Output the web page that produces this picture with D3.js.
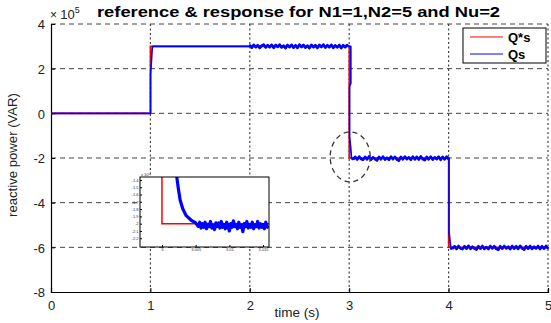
<!DOCTYPE html>
<html>
<head>
<meta charset="utf-8">
<script src="https://cdn.jsdelivr.net/npm/d3@7"></script>
<style>
  body { margin: 0; background: #fff; }
  text { font-family: "Liberation Sans", Arial, sans-serif; }
</style>
</head>
<body>
<div id="chart"></div>
<script>
// values in units of 10^5 VAR
var xTicks = [0, 1, 2, 3, 4, 5],
    yTicks = [-8, -6, -4, -2, 0, 2, 4];

// reference Q*s (step after)
var refTimes = [0, 1, 3, 4, 5],
    refValues = [0, 3, -2, -6, -6];

// response Qs, transitions
var qsRise1 = [[0, 0], [1.002, 0], [1.002, 1.75], [1.018, 2.9], [1.022, 3.0], [2.0, 3.0]];
var qsFall3 = [[2.999, 3.0], [3.016, 3.0], [3.016, 1.35], [3.004, 1.2], [3.004, -1.05], [3.016, -1.6],
  [3.022, -1.95], [3.03, -2.06]];
var qsFall4 = [[3.999, -2.0], [4.004, -2.0], [4.004, -5.3], [4.016, -5.8], [4.024, -6.08], [4.04, -6.0]];

// noisy stretches, sampled every 0.02 s
var noiseStep = 0.02;
var noise2 = [3.06, 2.94, 3.07, 2.96, 3.05, 2.93, 3.03, 3.08, 2.95, 3.05, 2.96, 3.07, 2.93, 3.06, 2.98, 3.08,
  2.95, 3.03, 2.92, 3.06, 2.96, 3.07, 2.94, 3.05, 2.93, 3.08, 2.97, 3.06, 2.94, 3.03, 2.92, 3.07, 2.96, 3.05,
  2.93, 3.06, 2.97, 3.08, 2.94, 3.05, 2.96, 3.07, 2.93, 3.04, 2.95, 3.06, 2.92, 3.05, 2.96, 3.07];
var noise3 = [-2.06, -1.95, -2.07, -1.94, -2.05, -2.08, -1.95, -2.06, -1.93, -2.07, -1.97, -2.05, -2.11, -1.95,
  -2.06, -1.94, -2.07, -1.99, -2.08, -1.94, -2.05, -1.95, -2.07, -2.12, -1.95, -2.06, -1.94, -2.05, -1.97,
  -2.08, -1.94, -2.06, -1.95, -2.07, -1.93, -2.05, -2.1, -1.95, -2.06, -1.94, -2.07, -1.97, -2.05, -1.94,
  -2.08, -1.95, -2.06, -1.94, -2.05];
var noise4 = [-6.06, -5.95, -6.07, -5.94, -6.05, -6.08, -5.95, -6.06, -5.93, -6.07, -5.97, -6.05, -6.1, -5.95,
  -6.06, -5.94, -6.07, -5.99, -6.08, -5.94, -6.05, -5.95, -6.07, -6.11, -5.95, -6.06, -5.94, -6.05, -5.97,
  -6.08, -5.94, -6.06, -5.95, -6.07, -5.93, -6.05, -6.1, -5.95, -6.06, -5.94, -6.07, -5.97, -6.05, -5.94,
  -6.08, -5.95, -6.06, -5.94, -6.05];

// inset (zoom around t = 3 s)
var insetXTicks = [3, 3.005, 3.01, 3.015],
    insetYTicks = [-1.4, -1.5, -1.6, -1.7, -1.8, -1.9, -2, -2.1, -2.2];
var insetRef = [[3, -1.2], [3, -2.0], [3.02, -2.0]];
var insetDecay = [[3.0021, -1.2], [3.0022, -1.36], [3.0024, -1.5], [3.0027, -1.68], [3.0031, -1.8],
  [3.0036, -1.89], [3.0043, -1.95], [3.005, -1.99]];
var insetNoiseStep = 0.0002;
var insetNoise = [-2.04, -1.98, -2.06, -2.0, -2.05, -1.98, -2.07, -2.01, -2.04, -1.97, -2.06, -2.02, -2.08,
  -1.99, -2.04, -1.99, -2.06, -1.97, -2.05, -2.01, -2.07, -1.98, -2.04, -2.1, -2.0, -2.05, -1.96, -2.04, -2.01,
  -2.07, -1.98, -2.05, -2.02, -2.11, -2.0, -2.04, -1.97, -2.06, -2.01, -2.05, -1.98, -2.07, -2.02, -2.04,
  -1.97, -2.06, -2.0, -2.05, -2.01, -2.07, -1.98, -2.04, -2.06];

var W = 551, H = 323;
var margin = {top: 24, right: 3, bottom: 31, left: 51},
    width = W - margin.left - margin.right,
    height = H - margin.top - margin.bottom;

var svg = d3.select("#chart").append("svg")
    .attr("width", W)
    .attr("height", H);

var g = svg.append("g")
    .attr("transform", "translate(" + margin.left + "," + margin.top + ")");

var x = d3.scaleLinear().domain([0, 5]).range([0, width]);
var y = d3.scaleLinear().domain([-8, 4]).range([height, 0]);

// grid
g.append("g").selectAll("line")
  .data(yTicks.filter(function (d) { return d > -8; }))
  .enter().append("line")
    .attr("x1", 0).attr("x2", width)
    .attr("y1", function (d) { return y(d); })
    .attr("y2", function (d) { return y(d); })
    .attr("stroke", "#444")
    .attr("stroke-width", 1)
    .attr("stroke-dasharray", "5,4");

g.append("g").selectAll("line")
  .data(xTicks.filter(function (d) { return d > 0; }))
  .enter().append("line")
    .attr("x1", function (d) { return x(d); })
    .attr("x2", function (d) { return x(d); })
    .attr("y1", 0).attr("y2", height)
    .attr("stroke", "#444")
    .attr("stroke-width", 1.2)
    .attr("stroke-dasharray", "2,2.5");

// axes
var xAxis = g.append("g")
    .attr("transform", "translate(0," + height + ")")
    .call(d3.axisBottom(x).tickValues(xTicks).tickSize(-4).tickPadding(6).tickFormat(d3.format("d")));
var yAxis = g.append("g")
    .call(d3.axisLeft(y).tickValues(yTicks).tickSize(-4).tickPadding(6).tickFormat(function (d) { return d; }));

[xAxis, yAxis].forEach(function (a) {
  a.select(".domain").attr("stroke", "#000").attr("stroke-width", 1.2);
  a.selectAll(".tick line").attr("stroke", "#000");
  a.selectAll(".tick text")
    .attr("font-size", 13)
    .attr("fill", "#222")
    .style("font-family", "'Liberation Sans', Arial, sans-serif");
});
xAxis.selectAll(".tick text").attr("dy", "0.95em");
yAxis.selectAll(".tick text").attr("dy", "0.36em");

// data lines
var line = d3.line()
    .x(function (d) { return x(d[0]); })
    .y(function (d) { return y(d[1]); });

var refData = refTimes.map(function (t, i) { return [t, refValues[i]]; });
g.append("path")
    .datum(refData)
    .attr("fill", "none")
    .attr("stroke", "#ff0000")
    .attr("stroke-width", 1.6)
    .attr("d", d3.line().curve(d3.curveStepAfter)
      .x(function (d) { return x(d[0]); })
      .y(function (d) { return y(d[1]); }));

function noisePoints(t0, step, vals) {
  return vals.map(function (v, i) { return [t0 + i * step, v]; });
}

var noisy2 = noisePoints(2.0, noiseStep, noise2),
    noisy3 = noisePoints(3.04, noiseStep, noise3),
    noisy4 = noisePoints(4.04, noiseStep, noise4);

var qsData = []
  .concat(qsRise1)
  .concat(noisy2)
  .concat(qsFall3)
  .concat(noisy3)
  .concat(qsFall4)
  .concat(noisy4)
  .concat([[5, -6.0]]);

g.append("path")
    .datum(qsData)
    .attr("fill", "none")
    .attr("stroke", "#0000ff")
    .attr("stroke-width", 1.7)
    .attr("stroke-linejoin", "round")
    .attr("d", line);

// the noisy stretches read as a denser band
g.append("g").selectAll("path")
  .data([noisy2, noisy3, noisy4])
  .enter().append("path")
    .attr("fill", "none")
    .attr("stroke", "#0000ff")
    .attr("stroke-width", 2.6)
    .attr("stroke-linejoin", "round")
    .attr("d", line);

// dashed ellipse around the step at t = 3
g.append("ellipse")
    .attr("cx", x(3.01))
    .attr("cy", y(-1.95))
    .attr("rx", 20)
    .attr("ry", 25)
    .attr("fill", "none")
    .attr("stroke", "#333")
    .attr("stroke-width", 1.3)
    .attr("stroke-dasharray", "5,4");

// inset
var inset = {left: 140, top: 177, width: 129, height: 70};
var ig = svg.append("g")
    .attr("transform", "translate(" + inset.left + "," + inset.top + ")");
var ix = d3.scaleLinear().domain([2.99674, 3.01588]).range([0, inset.width]);
var iy = d3.scaleLinear().domain([-2.32, -1.36]).range([inset.height, 0]);

ig.append("rect")
    .attr("width", inset.width).attr("height", inset.height)
    .attr("fill", "#fff");
svg.append("clipPath").attr("id", "insetClip")
  .append("rect")
    .attr("width", inset.width).attr("height", inset.height);

var iline = d3.line()
    .x(function (d) { return ix(d[0]); })
    .y(function (d) { return iy(d[1]); });

var ip = ig.append("g").attr("clip-path", "url(#insetClip)");
ip.append("path")
    .datum(insetRef)
    .attr("fill", "none")
    .attr("stroke", "#ff0000")
    .attr("stroke-width", 1.5)
    .attr("d", iline);
ip.append("path")
    .datum(insetDecay.concat(noisePoints(3.0054, insetNoiseStep, insetNoise)))
    .attr("fill", "none")
    .attr("stroke", "#0000ff")
    .attr("stroke-width", 3.2)
    .attr("stroke-linejoin", "round")
    .attr("d", iline);

ig.append("rect")
    .attr("width", inset.width).attr("height", inset.height)
    .attr("fill", "none")
    .attr("stroke", "#000")
    .attr("stroke-width", 1);

var ixAxis = ig.append("g")
    .attr("transform", "translate(0," + inset.height + ")")
    .call(d3.axisBottom(ix).tickValues(insetXTicks).tickSize(-2).tickPadding(1.5).tickFormat(function (d) { return d; }));
var iyAxis = ig.append("g")
    .call(d3.axisLeft(iy).tickValues(insetYTicks).tickSize(-2).tickPadding(1.5).tickFormat(function (d) { return d; }));
[ixAxis, iyAxis].forEach(function (a) {
  a.select(".domain").remove();
  a.selectAll(".tick line").attr("stroke", "#000");
  a.selectAll(".tick text")
    .attr("font-size", 4)
    .attr("fill", "#333")
    .style("font-family", "'Liberation Sans', Arial, sans-serif");
});
ig.append("text")
    .attr("x", 1).attr("y", -1.5)
    .attr("font-size", 4)
    .attr("fill", "#333")
    .text("x 10\u2075");

// exponent label and title
var expo = svg.append("text")
    .attr("x", margin.left - 1)
    .attr("y", 19)
    .attr("font-size", 13)
    .attr("fill", "#222");
expo.append("tspan").attr("font-size", 12).text("\u00d7 ");
expo.append("tspan").text("10");
expo.append("tspan").attr("font-size", 9).attr("dy", -6).text("5");

svg.append("text")
    .attr("x", 97)
    .attr("y", 17)
    .attr("font-size", 14)
    .attr("font-weight", "bold")
    .attr("fill", "#000")
    .attr("textLength", 403)
    .attr("lengthAdjust", "spacingAndGlyphs")
    .text("reference & response for N1=1,N2=5 and Nu=2");

// axis labels
svg.append("text")
    .attr("x", 297)
    .attr("y", 317)
    .attr("text-anchor", "middle")
    .attr("font-size", 13.5)
    .attr("fill", "#222")
    .text("time (s)");

svg.append("text")
    .attr("transform", "translate(17,155) rotate(-90)")
    .attr("text-anchor", "middle")
    .attr("font-size", 13)
    .attr("fill", "#222")
    .attr("textLength", 124)
    .attr("lengthAdjust", "spacingAndGlyphs")
    .text("reactive power (VAR)");

// legend
var legendItems = ["Q*s", "Qs"],
    legendColors = ["#ff0000", "#0000ff"];
var lg = svg.append("g").attr("transform", "translate(463,28)");
lg.append("rect")
    .attr("width", 83).attr("height", 35)
    .attr("fill", "#fff")
    .attr("stroke", "#000")
    .attr("stroke-width", 1);
legendItems.forEach(function (name, i) {
  var yy = 9 + i * 17;
  lg.append("line")
      .attr("x1", 7).attr("x2", 40)
      .attr("y1", yy).attr("y2", yy)
      .attr("stroke", legendColors[i])
      .attr("stroke-width", 1.2);
  lg.append("text")
      .attr("x", 45)
      .attr("y", yy + 4.5)
      .attr("font-size", 13)
      .attr("font-weight", "bold")
      .attr("fill", "#000")
      .text(name);
});
</script>
</body>
</html>
